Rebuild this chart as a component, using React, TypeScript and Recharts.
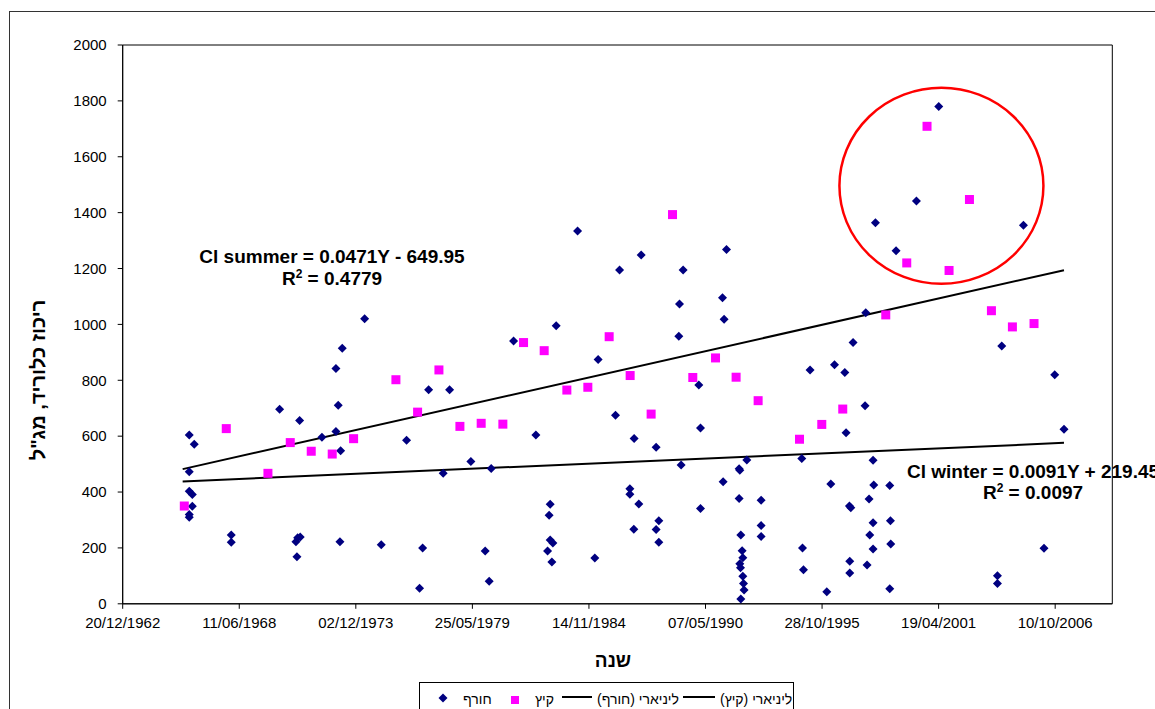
import React from 'react';
import {
  ScatterChart,
  Scatter,
  XAxis,
  YAxis,
  ReferenceArea,
  ReferenceDot,
  Legend,
  Customized,
} from 'recharts';

// x = Excel date serial (days), y = chloride mg/l
const winterX = [
  24142, 24228, 24142, 24142, 24194, 24194, 24142, 24142, 24863, 24863,
  25693, 26036, 25990, 25973, 26002, 26046, 26659, 26767, 26698, 26659,
  26419, 26739, 27151, 26727, 27436, 28146, 28094, 27871, 28249, 28609,
  28499, 28974, 29323, 29220, 29288, 29707, 30438, 30089, 31158, 31456,
  30335, 30317, 30335, 30381, 30290, 30364, 31101, 31702, 31702, 30805,
  31525, 31896, 32616, 33360, 32554, 33292, 33319, 32542, 32885, 32914,
  31775, 32153, 32582, 31856, 31770, 32199, 32153, 32199, 32914, 33302,
  33577, 33589, 33709, 33577, 33954, 33954, 33954, 33606, 33628, 33640,
  33589, 33601, 33640, 33652, 33662, 33606, 34664, 34681, 35081, 34652,
  34794, 35213, 35390, 35532, 35750, 35738, 35412, 35150, 35470, 35493,
  35875, 35887, 35806, 35875, 35818, 35875, 35772, 35475, 35475, 38083,
  38992, 39151, 36161, 36173, 36179, 36161, 38808, 38009, 38009, 37002,
  36619, 35916, 38455, 36270,
];
const winterY = [
  604, 571, 473, 403, 391, 349, 320, 310, 246, 220,
  696, 656, 168, 222, 236, 239, 842, 915, 711, 617,
  596, 548, 1020, 222, 211, 200, 56, 585, 766, 766,
  467, 509, 484, 189, 81, 941, 995, 604, 874, 675,
  356, 317, 228, 218, 189, 150, 164, 412, 392, 1334,
  1195, 1248, 1195, 1268, 1073, 1095, 1018, 958, 783, 629,
  592, 560, 497, 357, 267, 297, 266, 220, 341, 437,
  483, 478, 515, 377, 371, 280, 241, 246, 190, 165,
  143, 129, 99, 73, 49, 17, 200, 122, 43, 520,
  837, 856, 828, 935, 1042, 709, 612, 429, 350, 344,
  514, 425, 375, 290, 246, 196, 139, 152, 110, 923,
  820, 625, 423, 297, 214, 54, 199, 100, 73, 1780,
  1442, 1364, 1355, 1264,
];

const summerX = [
  24057, 24777, 25492, 25875, 26235, 26595, 26962, 27688, 28060, 28426,
  28786, 29151, 29523, 29878, 30232, 30621, 30981, 31347, 31707, 32067,
  32434, 32782, 33172, 33525, 33903, 34613, 34995, 35355, 36093, 36453,
  36801, 37179, 37529, 37906, 38266, 38637,
];
const summerY = [
  350, 627, 467, 577, 546, 536, 591, 802, 686, 837,
  635, 646, 643, 935, 906, 765, 775, 956, 817, 679,
  1393, 810, 880, 811, 727, 589, 642, 697, 1034, 1220,
  1709, 1193, 1447, 1049, 991, 1003,
];

// linear trend end points
const trendX = [24029, 39151];
const summerTrendY = [482, 1194];
const winterTrendY = [438, 576];

const xTicks = [23000, 25000, 27000, 29000, 31000, 33000, 35000, 37000, 39000];
const xTickLabels = [
  '20/12/1962', '11/06/1968', '02/12/1973', '25/05/1979', '14/11/1984',
  '07/05/1990', '28/10/1995', '19/04/2001', '10/10/2006',
];
const yTicks = [0, 200, 400, 600, 800, 1000, 1200, 1400, 1600, 1800, 2000];
const legendLabels = ['חורף', 'קיץ', 'ליניארי (חורף)', 'ליניארי (קיץ)'];

const circleCenter = { x: 37048, y: 1496 };

const FONT = '"Liberation Sans", Arial, sans-serif';
const X_MIN = 23000;
const X_MAX = 39980;

const winterData = winterX.map((x, i) => ({ x, y: winterY[i] }));
const summerData = summerX.map((x, i) => ({ x, y: summerY[i] }));
const summerTrend = trendX.map((x, i) => ({ x, y: summerTrendY[i] }));
const winterTrend = trendX.map((x, i) => ({ x, y: winterTrendY[i] }));

const Diamond = (p: any) => {
  const { cx, cy } = p;
  const r = 4.5;
  return <path d={`M${cx},${cy - r}L${cx + r},${cy}L${cx},${cy + r}L${cx - r},${cy}Z`} fill="#000080" />;
};

const Square = (p: any) => {
  const { cx, cy } = p;
  return <rect x={cx - 4.5} y={cy - 4.5} width={9} height={9} fill="#FF00FF" />;
};

const NoDot = () => <g />;

const Annotations = () => (
  <g fontFamily={FONT} fontWeight="bold" fill="#000">
    <text x={332} y={263} fontSize={19} textAnchor="middle">Cl summer = 0.0471Y - 649.95</text>
    <text x={332} y={285} fontSize={19} textAnchor="middle">
      R<tspan dy={-7} fontSize={12}>2</tspan><tspan dy={7}> = 0.4779</tspan>
    </text>
    <text x={1033} y={478} fontSize={19} textAnchor="middle">Cl winter = 0.0091Y + 219.45</text>
    <text x={1033} y={499} fontSize={19} textAnchor="middle">
      R<tspan dy={-7} fontSize={12}>2</tspan><tspan dy={7}> = 0.0097</tspan>
    </text>
    <text x={613} y={667} fontSize={19} textAnchor="middle" direction="rtl">שנה</text>
    <text
      x={38}
      y={380}
      fontSize={20}
      textAnchor="middle"
      dominantBaseline="central"
      direction="rtl"
      transform="rotate(-90 38 380)"
    >
      ריכוז כלוריד, מג"ל
    </text>
  </g>
);

const LegendBox = () => {
  const txt: React.CSSProperties = {
    position: 'absolute',
    top: 9,
    fontSize: 14,
    lineHeight: '14px',
    fontFamily: FONT,
    color: '#000',
    direction: 'rtl',
    whiteSpace: 'nowrap',
  };
  return (
    <div
      style={{
        position: 'relative',
        width: 375,
        height: 30,
        border: '1px solid #000',
        boxSizing: 'border-box',
        background: '#fff',
      }}
    >
      <svg style={{ position: 'absolute', left: 18, top: 10 }} width={10} height={10}>
        <path d="M5,0.5L9.5,5L5,9.5L0.5,5Z" fill="#000080" />
      </svg>
      <span style={{ ...txt, left: 43 }}>{legendLabels[0]}</span>
      <div style={{ position: 'absolute', left: 91, top: 13, width: 8, height: 8, background: '#FF00FF' }} />
      <span style={{ ...txt, left: 115 }}>{legendLabels[1]}</span>
      <div style={{ position: 'absolute', left: 142, top: 13, width: 30, height: 2, background: '#000' }} />
      <span style={{ ...txt, left: 177 }}>{legendLabels[2]}</span>
      <div style={{ position: 'absolute', left: 263, top: 13, width: 32, height: 2, background: '#000' }} />
      <span style={{ ...txt, left: 300 }}>{legendLabels[3]}</span>
    </div>
  );
};

export default function App() {
  return (
    <div
      style={{
        position: 'absolute',
        left: 0,
        top: 0,
        width: 1155,
        height: 709,
        overflow: 'hidden',
        background: '#fff',
        fontFamily: FONT,
      }}
    >
      <div
        style={{
          position: 'absolute',
          left: 9,
          top: 11,
          width: 1200,
          height: 760,
          border: '1px solid #333',
        }}
      />
      <div style={{ position: 'absolute', left: 0, top: 0 }}>
        <ScatterChart
          width={1155}
          height={709}
          margin={{ top: 45, right: 42.7, bottom: 75.2, left: 62.7 }}
        >
          <XAxis
            type="number"
            dataKey="x"
            domain={[X_MIN, X_MAX]}
            ticks={xTicks}
            interval={0}
            allowDataOverflow
            tickFormatter={(v: number) => xTickLabels[xTicks.indexOf(v)] ?? ''}
            tick={{ fontSize: 15, fill: '#000', fontFamily: FONT }}
            tickSize={5}
            tickMargin={9}
            height={30}
            axisLine={{ stroke: '#000' }}
            tickLine={{ stroke: '#000' }}
          />
          <YAxis
            type="number"
            dataKey="y"
            domain={[0, 2000]}
            ticks={yTicks}
            interval={0}
            tick={{ fontSize: 15, fill: '#000', fontFamily: FONT }}
            tickSize={5}
            tickMargin={11}
            width={60}
            axisLine={{ stroke: '#000' }}
            tickLine={{ stroke: '#000' }}
          />
          <ReferenceArea x1={X_MIN} x2={X_MAX} y1={0} y2={2000} fill="none" stroke="#000" strokeWidth={1} />
          <Scatter
            data={summerTrend}
            line={{ stroke: '#000', strokeWidth: 2 }}
            lineType="joint"
            shape={NoDot}
            isAnimationActive={false}
          />
          <Scatter
            data={winterTrend}
            line={{ stroke: '#000', strokeWidth: 2 }}
            lineType="joint"
            shape={NoDot}
            isAnimationActive={false}
          />
          <Scatter data={winterData} shape={Diamond} isAnimationActive={false} />
          <Scatter data={summerData} shape={Square} isAnimationActive={false} />
          <ReferenceDot
            x={circleCenter.x}
            y={circleCenter.y}
            r={100}
            shape={(p: any) => (
              <ellipse cx={p.cx} cy={p.cy} rx={102} ry={98} fill="none" stroke="#FF0000" strokeWidth={2.5} />
            )}
          />
          <Customized component={Annotations} />
          <Legend
            layout="horizontal"
            verticalAlign="middle"
            align="center"
            wrapperStyle={{ left: 419, top: 682, width: 375, height: 30 }}
            content={LegendBox}
          />
        </ScatterChart>
      </div>
    </div>
  );
}
